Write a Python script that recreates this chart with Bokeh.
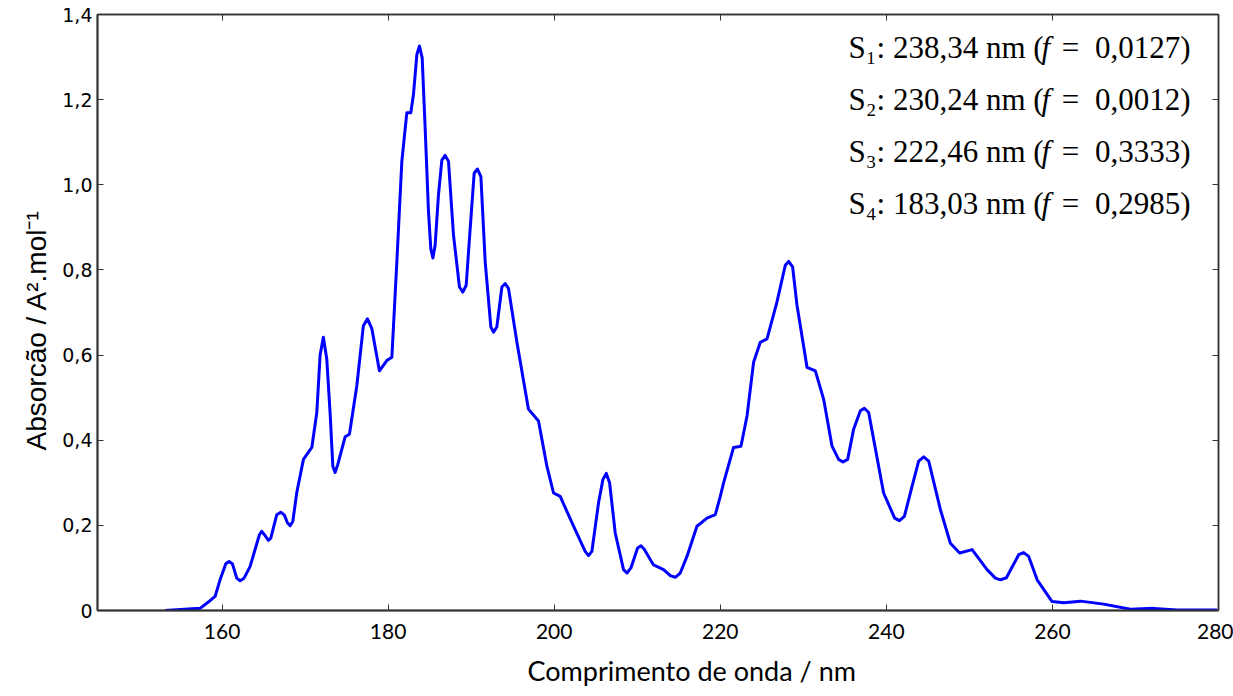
from bokeh.plotting import figure
from bokeh.models import LinearAxis, FixedTicker, CustomJSTickFormatter, Label, Range1d, Title
from bokeh.embed import file_html
from bokeh.resources import INLINE

# ---- data ----
wavelength_nm = [
    153.13, 157.35, 158.55, 159.16, 159.76, 160.45, 160.84, 161.24, 161.77, 162.17,
    162.65, 163.37, 164.50, 164.78, 165.10, 165.58, 165.87, 166.59, 167.07, 167.51,
    167.87, 168.19, 168.52, 169.00, 169.80, 170.81, 171.41, 171.81, 172.20, 172.61,
    173.01, 173.34, 173.61, 173.94, 174.82, 175.34, 176.23, 177.02, 177.51, 178.04,
    178.95, 179.84, 180.45, 181.05, 181.65, 182.25, 182.73, 183.05, 183.46, 183.77,
    184.10, 184.46, 184.86, 185.14, 185.39, 185.66, 186.06, 186.47, 186.87, 187.27,
    187.87, 188.59, 189.00, 189.40, 189.88, 190.36, 190.76, 191.17, 191.69, 192.37,
    192.69, 193.09, 193.70, 194.10, 194.50, 195.51, 196.90, 198.11, 199.12, 199.92,
    200.72, 202.33, 203.73, 204.13, 204.54, 205.34, 205.87, 206.27, 206.67, 207.35,
    208.35, 208.76, 209.24, 210.04, 210.45, 210.84, 211.96, 213.17, 213.98, 214.58,
    215.18, 215.99, 217.19, 218.40, 219.40, 220.00, 220.40, 221.60, 222.49, 223.22,
    224.01, 224.82, 225.63, 226.83, 227.83, 228.23, 228.71, 229.24, 230.45, 231.45,
    232.45, 233.46, 234.25, 234.78, 235.34, 236.06, 236.87, 237.35, 237.87, 238.47,
    239.67, 241.00, 241.57, 242.17, 243.10, 243.89, 244.50, 245.10, 246.51, 247.71,
    248.83, 250.33, 252.13, 253.13, 253.73, 254.46, 255.94, 256.54, 257.14, 258.16,
    259.96, 261.36, 263.37, 266.18, 269.40, 272.20, 275.02, 279.84,
]
absorption = [
    0.000, 0.005, 0.023, 0.033, 0.072, 0.110, 0.115, 0.110, 0.076, 0.070,
    0.076, 0.103, 0.178, 0.186, 0.178, 0.165, 0.170, 0.225, 0.231, 0.224,
    0.206, 0.199, 0.209, 0.277, 0.355, 0.383, 0.465, 0.600, 0.642, 0.591,
    0.465, 0.339, 0.324, 0.343, 0.408, 0.414, 0.528, 0.669, 0.685, 0.662,
    0.563, 0.587, 0.595, 0.819, 1.055, 1.169, 1.169, 1.212, 1.306, 1.326,
    1.298, 1.133, 0.937, 0.850, 0.828, 0.858, 0.976, 1.058, 1.069, 1.055,
    0.882, 0.760, 0.748, 0.764, 0.897, 1.027, 1.037, 1.019, 0.819, 0.666,
    0.654, 0.666, 0.760, 0.768, 0.756, 0.630, 0.473, 0.445, 0.339, 0.276,
    0.268, 0.198, 0.139, 0.129, 0.139, 0.253, 0.308, 0.322, 0.300, 0.182,
    0.096, 0.088, 0.100, 0.147, 0.152, 0.144, 0.107, 0.096, 0.082, 0.078,
    0.088, 0.127, 0.198, 0.217, 0.225, 0.268, 0.300, 0.383, 0.386, 0.457,
    0.583, 0.630, 0.638, 0.725, 0.811, 0.820, 0.807, 0.717, 0.571, 0.563,
    0.496, 0.386, 0.355, 0.349, 0.355, 0.426, 0.469, 0.475, 0.465, 0.402,
    0.276, 0.217, 0.211, 0.221, 0.292, 0.351, 0.361, 0.351, 0.237, 0.158,
    0.135, 0.143, 0.096, 0.076, 0.072, 0.077, 0.131, 0.136, 0.127, 0.072,
    0.021, 0.018, 0.022, 0.015, 0.003, 0.005, 0.001, 0.001,
]

x_ticks = [160, 180, 200, 220, 240, 260, 280]
y_ticks = [0, 0.2, 0.4, 0.6, 0.8, 1.0, 1.2, 1.4]

x_title = "Comprimento de onda / nm"
y_title = "Absorc\u00e3o / A\u00b2.mol\u207b\u00b9"

state_names = ["S\u2081", "S\u2082", "S\u2083", "S\u2084"]
state_nm = ["238,34", "230,24", "222,46", "183,03"]
state_f = ["0,0127", "0,0012", "0,3333", "0,2985"]

AX = "#333333"

p = figure(
    width=1233, height=696,
    x_range=Range1d(145, 280), y_range=Range1d(0, 1.4),
    x_axis_type=None, y_axis_type=None,
    output_backend="svg", toolbar_location=None,
    min_border_left=97, min_border_right=15, min_border_top=14, min_border_bottom=86,
)
p.outline_line_color = AX
p.outline_line_width = 1.5
p.background_fill_color = "white"
p.border_fill_color = "white"


def style_axis(ax):
    ax.major_tick_in = 6
    ax.major_tick_out = 0
    ax.minor_tick_in = 0
    ax.minor_tick_out = 0
    ax.major_tick_line_color = AX
    ax.major_tick_line_width = 1
    ax.axis_line_color = AX
    ax.axis_line_width = 2


xb = LinearAxis(ticker=FixedTicker(ticks=x_ticks))
style_axis(xb)
xb.major_label_text_font = "Lato"
xb.major_label_text_font_size = "21px"
xb.major_label_text_color = "black"
xb.major_label_standoff = 13
p.add_layout(xb, "below")

yl = LinearAxis(ticker=FixedTicker(ticks=y_ticks),
                formatter=CustomJSTickFormatter(
                    code="return tick == 0 ? '0' : tick.toFixed(1).replace('.', ',');"))
style_axis(yl)
yl.major_label_text_font = "DejaVu Sans"
yl.major_label_text_font_size = "19px"
yl.major_label_text_color = "black"
yl.major_label_standoff = 5
p.add_layout(yl, "left")

for loc, tk in (("above", x_ticks), ("right", y_ticks)):
    a = LinearAxis(ticker=FixedTicker(ticks=tk))
    style_axis(a)
    a.axis_line_width = 1.5
    a.major_label_text_font_size = "0px"
    a.major_label_text_color = None
    a.major_label_standoff = 0
    p.add_layout(a, loc)

# axis titles (placed as titles so they can sit off-centre as in the reference)
p.add_layout(Title(text=x_title, align="left", offset=430, standoff=20,
                   text_font="Lato", text_font_size="27px", text_font_style="normal",
                   text_color="black"), "below")
p.add_layout(Title(text=y_title, align="left", offset=160, standoff=16,
                   text_font="Liberation Sans", text_font_size="28px",
                   text_font_style="normal", text_color="black"), "left")

p.line(wavelength_nm, absorption, line_color="#0000ff", line_width=3, line_join="round")

# state annotations
FONT = "Liberation Serif"
FS = "31px"
for i, (s, nm, f) in enumerate(zip(state_names, state_nm, state_f)):
    yy = 563 - 52 * i
    common = dict(x_units="screen", y_units="screen", text_baseline="middle",
                  text_font=FONT, text_font_size=FS, text_color="black")
    p.add_layout(Label(x=751, y=yy, text=f"{s}: {nm} nm (", text_align="left", **common))
    p.add_layout(Label(x=944, y=yy, text="f", text_align="left",
                       text_font_style="italic", **common))
    p.add_layout(Label(x=973, y=yy, text="=", text_align="center", **common))
    p.add_layout(Label(x=1093, y=yy, text=f"{f})", text_align="right", **common))

open("out.html", "w").write(file_html(p, INLINE))
